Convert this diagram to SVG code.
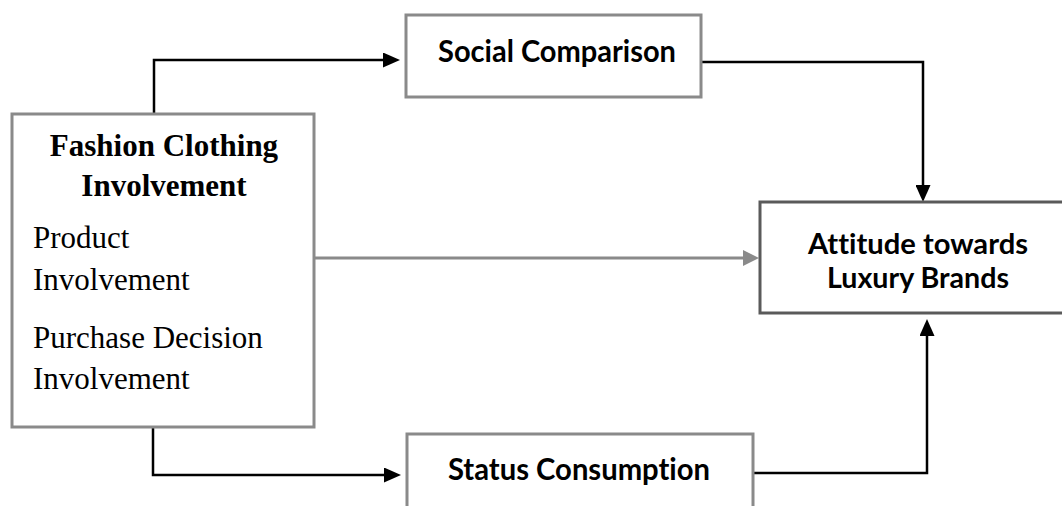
<svg xmlns="http://www.w3.org/2000/svg" width="1062" height="506" viewBox="0 0 1062 506">
<style>
.box{fill:#ffffff;stroke:#8a8a8a;stroke-width:3}
.box2{fill:#ffffff;stroke:#5a5a5a;stroke-width:3}
.sans{font-family:Lato,"Open Sans","Liberation Sans",sans-serif;font-weight:700;font-size:30px;fill:#000;font-variant-ligatures:none}
.sm{font-size:28px}
.serifb{font-family:"Liberation Serif","Times New Roman",serif;font-weight:700;font-size:31px;fill:#000}
.serif{font-family:"Liberation Serif","Times New Roman",serif;font-size:31px;fill:#000}
.conn{fill:none;stroke:#000;stroke-width:2.5}
.conng{fill:none;stroke:#8a8a8a;stroke-width:3}
</style>
<defs>
<marker id="ab" markerUnits="userSpaceOnUse" markerWidth="17" markerHeight="15" refX="11" refY="7.5" orient="auto">
<path d="M0,0 L17,7.5 L0,15 z" fill="#000"/>
</marker>
<marker id="ag" markerUnits="userSpaceOnUse" markerWidth="16" markerHeight="16" refX="10" refY="8" orient="auto">
<path d="M0,0 L16,8 L0,16 z" fill="#8a8a8a"/>
</marker>
</defs>
<g id="connectors">
<path class="conn" d="M154,114 V60 H394" marker-end="url(#ab)"/>
<path class="conn" d="M701,62 H923 V196" marker-end="url(#ab)"/>
<path class="conng" d="M314,258 H753" marker-end="url(#ag)"/>
<path class="conn" d="M153,427 V475 H395" marker-end="url(#ab)"/>
<path class="conn" d="M753,473 H927 V325" marker-end="url(#ab)"/>
</g>
<g id="fashion">
<rect class="box" x="12" y="114" width="302" height="313"/>
<text class="serifb" x="164" y="156" text-anchor="middle">Fashion Clothing</text>
<text class="serifb" x="164" y="196" text-anchor="middle">Involvement</text>
<text class="serif" x="33" y="248">Product</text>
<text class="serif" x="33" y="290">Involvement</text>
<text class="serif" x="33" y="348">Purchase Decision</text>
<text class="serif" x="33" y="389">Involvement</text>
</g>
<g id="social">
<rect class="box" x="406" y="15" width="295" height="82"/>
<text class="sans" x="438" y="62" textLength="238" lengthAdjust="spacingAndGlyphs">Social Comparison</text>
</g>
<g id="attitude">
<rect class="box2" x="760" y="202" width="306" height="111"/>
<text class="sans sm" x="808" y="254" textLength="220" lengthAdjust="spacingAndGlyphs">Attitude towards</text>
<text class="sans sm" x="827" y="288" textLength="182" lengthAdjust="spacingAndGlyphs">Luxury Brands</text>
</g>
<g id="status">
<rect class="box" x="407" y="434" width="346" height="90"/>
<text class="sans" x="448" y="480" textLength="262" lengthAdjust="spacingAndGlyphs">Status Consumption</text>
</g>
</svg>
